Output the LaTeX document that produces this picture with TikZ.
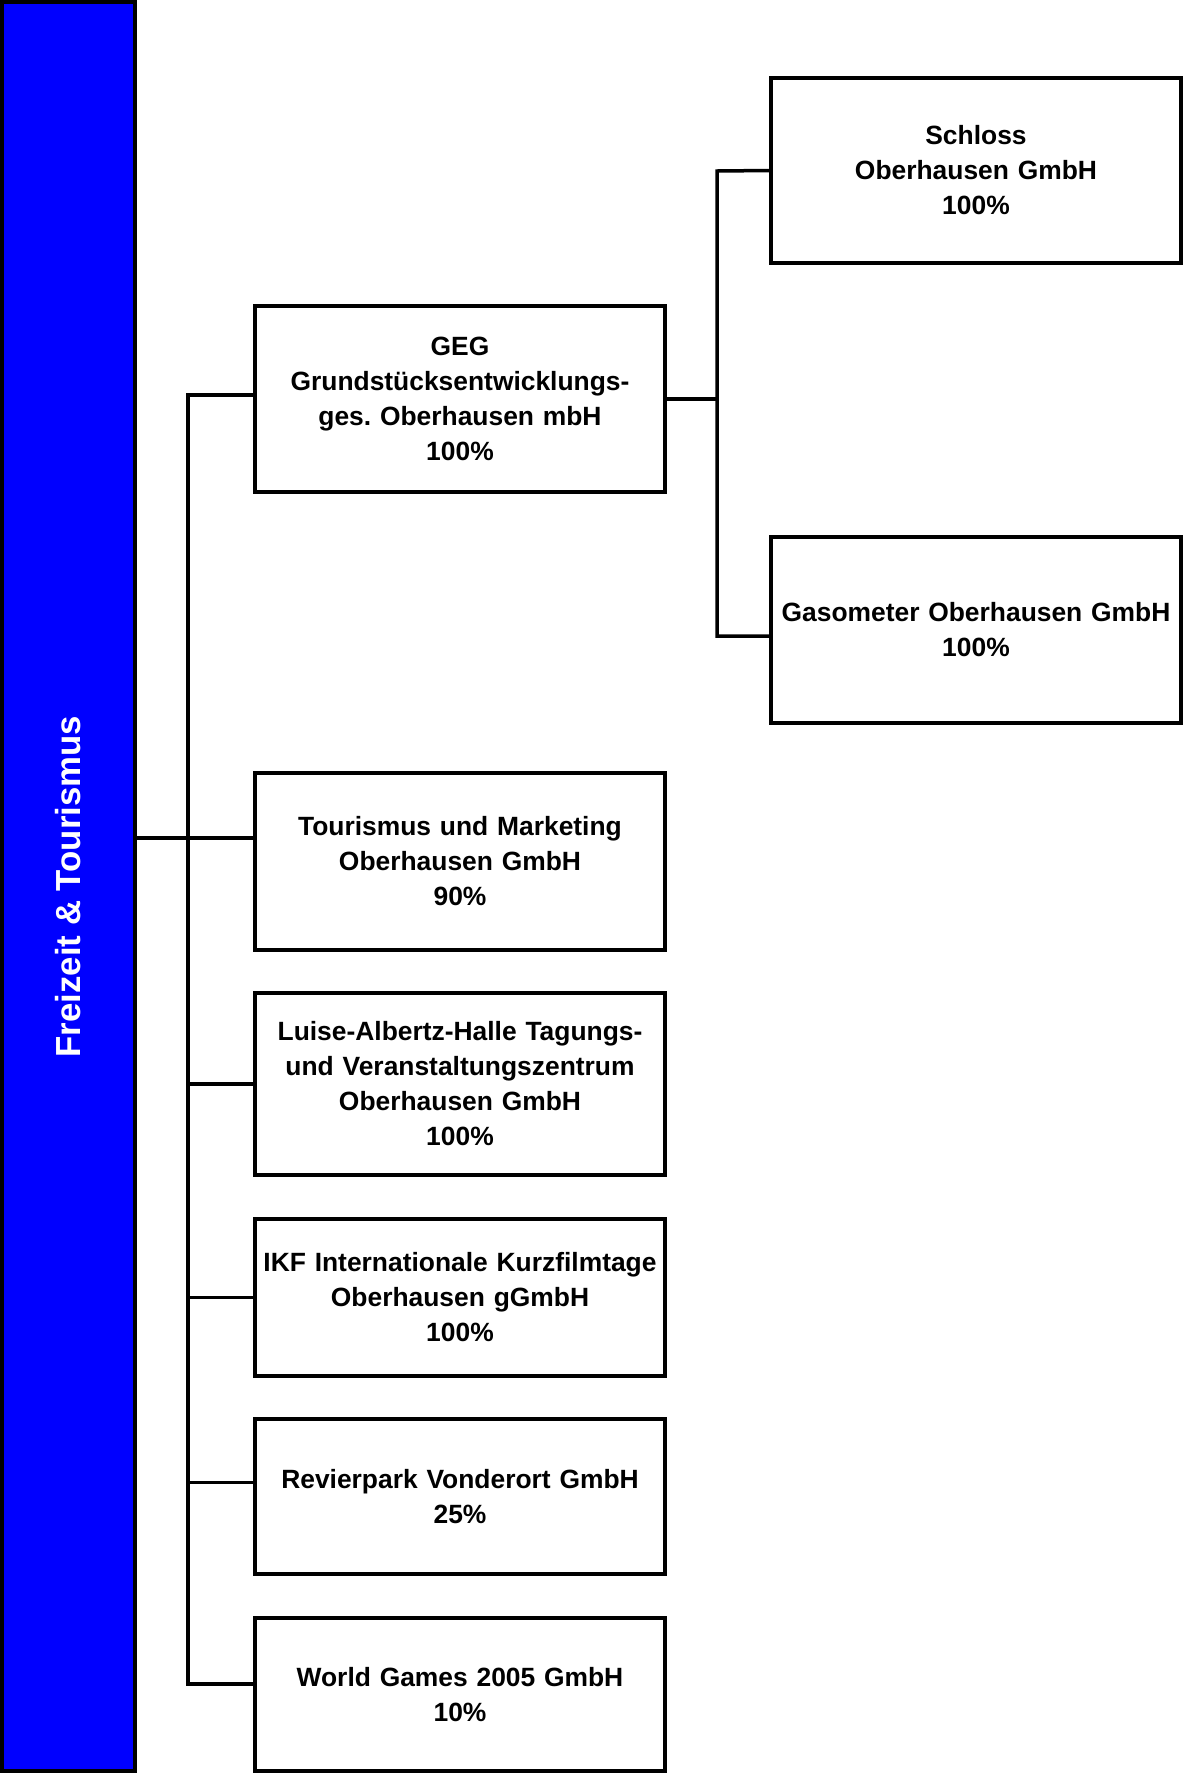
\documentclass[tikz,border=0pt]{standalone}
\usepackage{fontspec}
\setmainfont{Liberation Sans}
\usepackage{tikz}
\usetikzlibrary{positioning}
\definecolor{balkenblau}{RGB}{0,0,255}

\begin{document}
\begin{tikzpicture}[
  x=0.5pt,y=-0.5pt,
  node distance=20.25pt and 53pt,
  box/.style={draw,line width=1.75pt,minimum width=205pt,text width=200pt,inner sep=0pt,
              align=center,font=\bfseries\fontsize{13.2}{17.5}\selectfont},
  leiste/.style={draw,line width=1.75pt,fill=balkenblau,minimum width=66.5pt,minimum height=884.5pt},
  ln/.style={line width=1.75pt}
]
\frenchspacing
\useasboundingbox (0,0) rectangle (1184,1773);
\node[leiste] (bar) at (68.5,886.5) {};
\node[rotate=90,text=white,font=\bfseries\fontsize{17.4}{20}\selectfont] (titel) at (bar.center) {Freizeit \& Tourismus};

\node[box,minimum height=93pt] (geg) at (460,399) {GEG\\Grundstücksentwicklungs-\\ges. Oberhausen mbH\\100\%};
\node[box,minimum height=88.5pt,below=138.75pt of geg] (tour) {Tourismus und Marketing\\Oberhausen GmbH\\90\%};
\node[box,minimum height=91pt,below=19.75pt of tour] (lah) {Luise-Albertz-Halle Tagungs-\\und Veranstaltungszentrum\\Oberhausen GmbH\\100\%};
\node[box,minimum height=78.5pt,below=of lah] (ikf) {IKF Internationale Kurzfilmtage\\Oberhausen gGmbH\\100\%};
\node[box,minimum height=77.5pt,below=19.75pt of ikf] (rvp) {Revierpark Vonderort GmbH\\25\%};
\node[box,minimum height=76.5pt,below=of rvp] (wg) {World Games 2005 GmbH\\10\%};

\node[box,minimum height=92.5pt] (schl) at (976,170.5) {Schloss\\Oberhausen GmbH\\100\%};
\node[box,minimum height=93pt,below=135.25pt of schl] (gaso) {Gasometer Oberhausen GmbH\\100\%};

% Stamm links
\coordinate (knl) at (188,838);
\coordinate (sl) at (188,395);
\coordinate (sb) at (188,1684);
\coordinate (rv) at ([yshift=7pt]rvp.west);
\draw[ln] (bar.east |- knl) -- (tour.west |- knl);
\draw[ln] (geg.west |- sl) -- (sl) -- (sb) -- (wg.west |- sb);
\draw[ln] (sl |- lah.west) -- (lah.west);
\draw[ln] (sl |- ikf.west) -- (ikf.west);
\draw[ln] (sl |- rv) -- (rv);

% Stamm rechts
\coordinate (rt) at (717,171);
\coordinate (rb) at (717,636);
\draw[ln] (geg.east) -- (geg.east -| rt);
\draw[ln] (schl.west) -- (rt) -- (rb) -- (gaso.west |- rb);
\end{tikzpicture}
\end{document}
